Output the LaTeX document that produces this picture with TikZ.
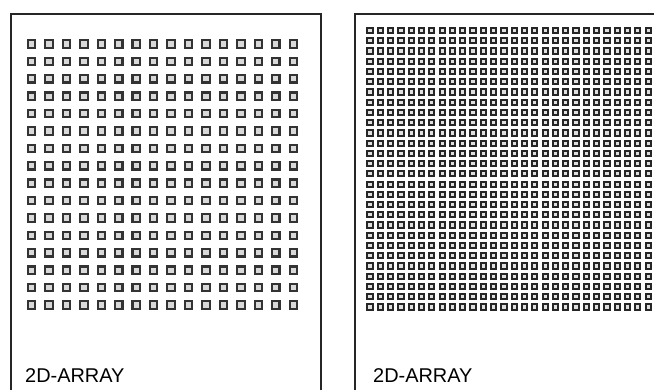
\documentclass[tikz,border=0pt]{standalone}
\usepackage{fontspec}
\setmainfont{Liberation Sans}
\usetikzlibrary{positioning}

\begin{document}
\begin{tikzpicture}[
      x=1bp, y=-1bp,
      panel/.style={draw=black!85, line width=1.6bp},
      bigcell/.style={draw=black!80, fill=black!15, line width=2.1bp},
      smallcell/.style={draw=black!85, fill=black!12, line width=2bp},
      caption/.style={font=\fontsize{20}{22}\selectfont, anchor=base west, inner sep=0pt}
    ]
    \useasboundingbox (0,0) rectangle (654,390);

    % left panel, coarse array
    \draw[panel] (11,390) -- (11,14) -- (321,14) -- (321,390);
    \foreach \i in {0,...,15}
      \foreach \j in {0,...,15}
        \draw[bigcell] ({31.5+17.45*\i-3.7},{44+17.4*\j-3.7}) rectangle +(7.4,7.4);
    \node[caption] (leftcap) at (25,382) {2D-ARRAY};

    % right panel, fine array
    \draw[panel] (355,390) -- (355,14) -- (654,14);
    \foreach \i in {0,...,27}
      \foreach \j in {0,...,27}
        \draw[smallcell] ({370+10.3*\i-2.6},{30.5+10.24*\j-2.6}) rectangle +(5.2,5.2);
    \node[caption] (rightcap) at (373,382) {2D-ARRAY};
  \end{tikzpicture}
\end{document}
